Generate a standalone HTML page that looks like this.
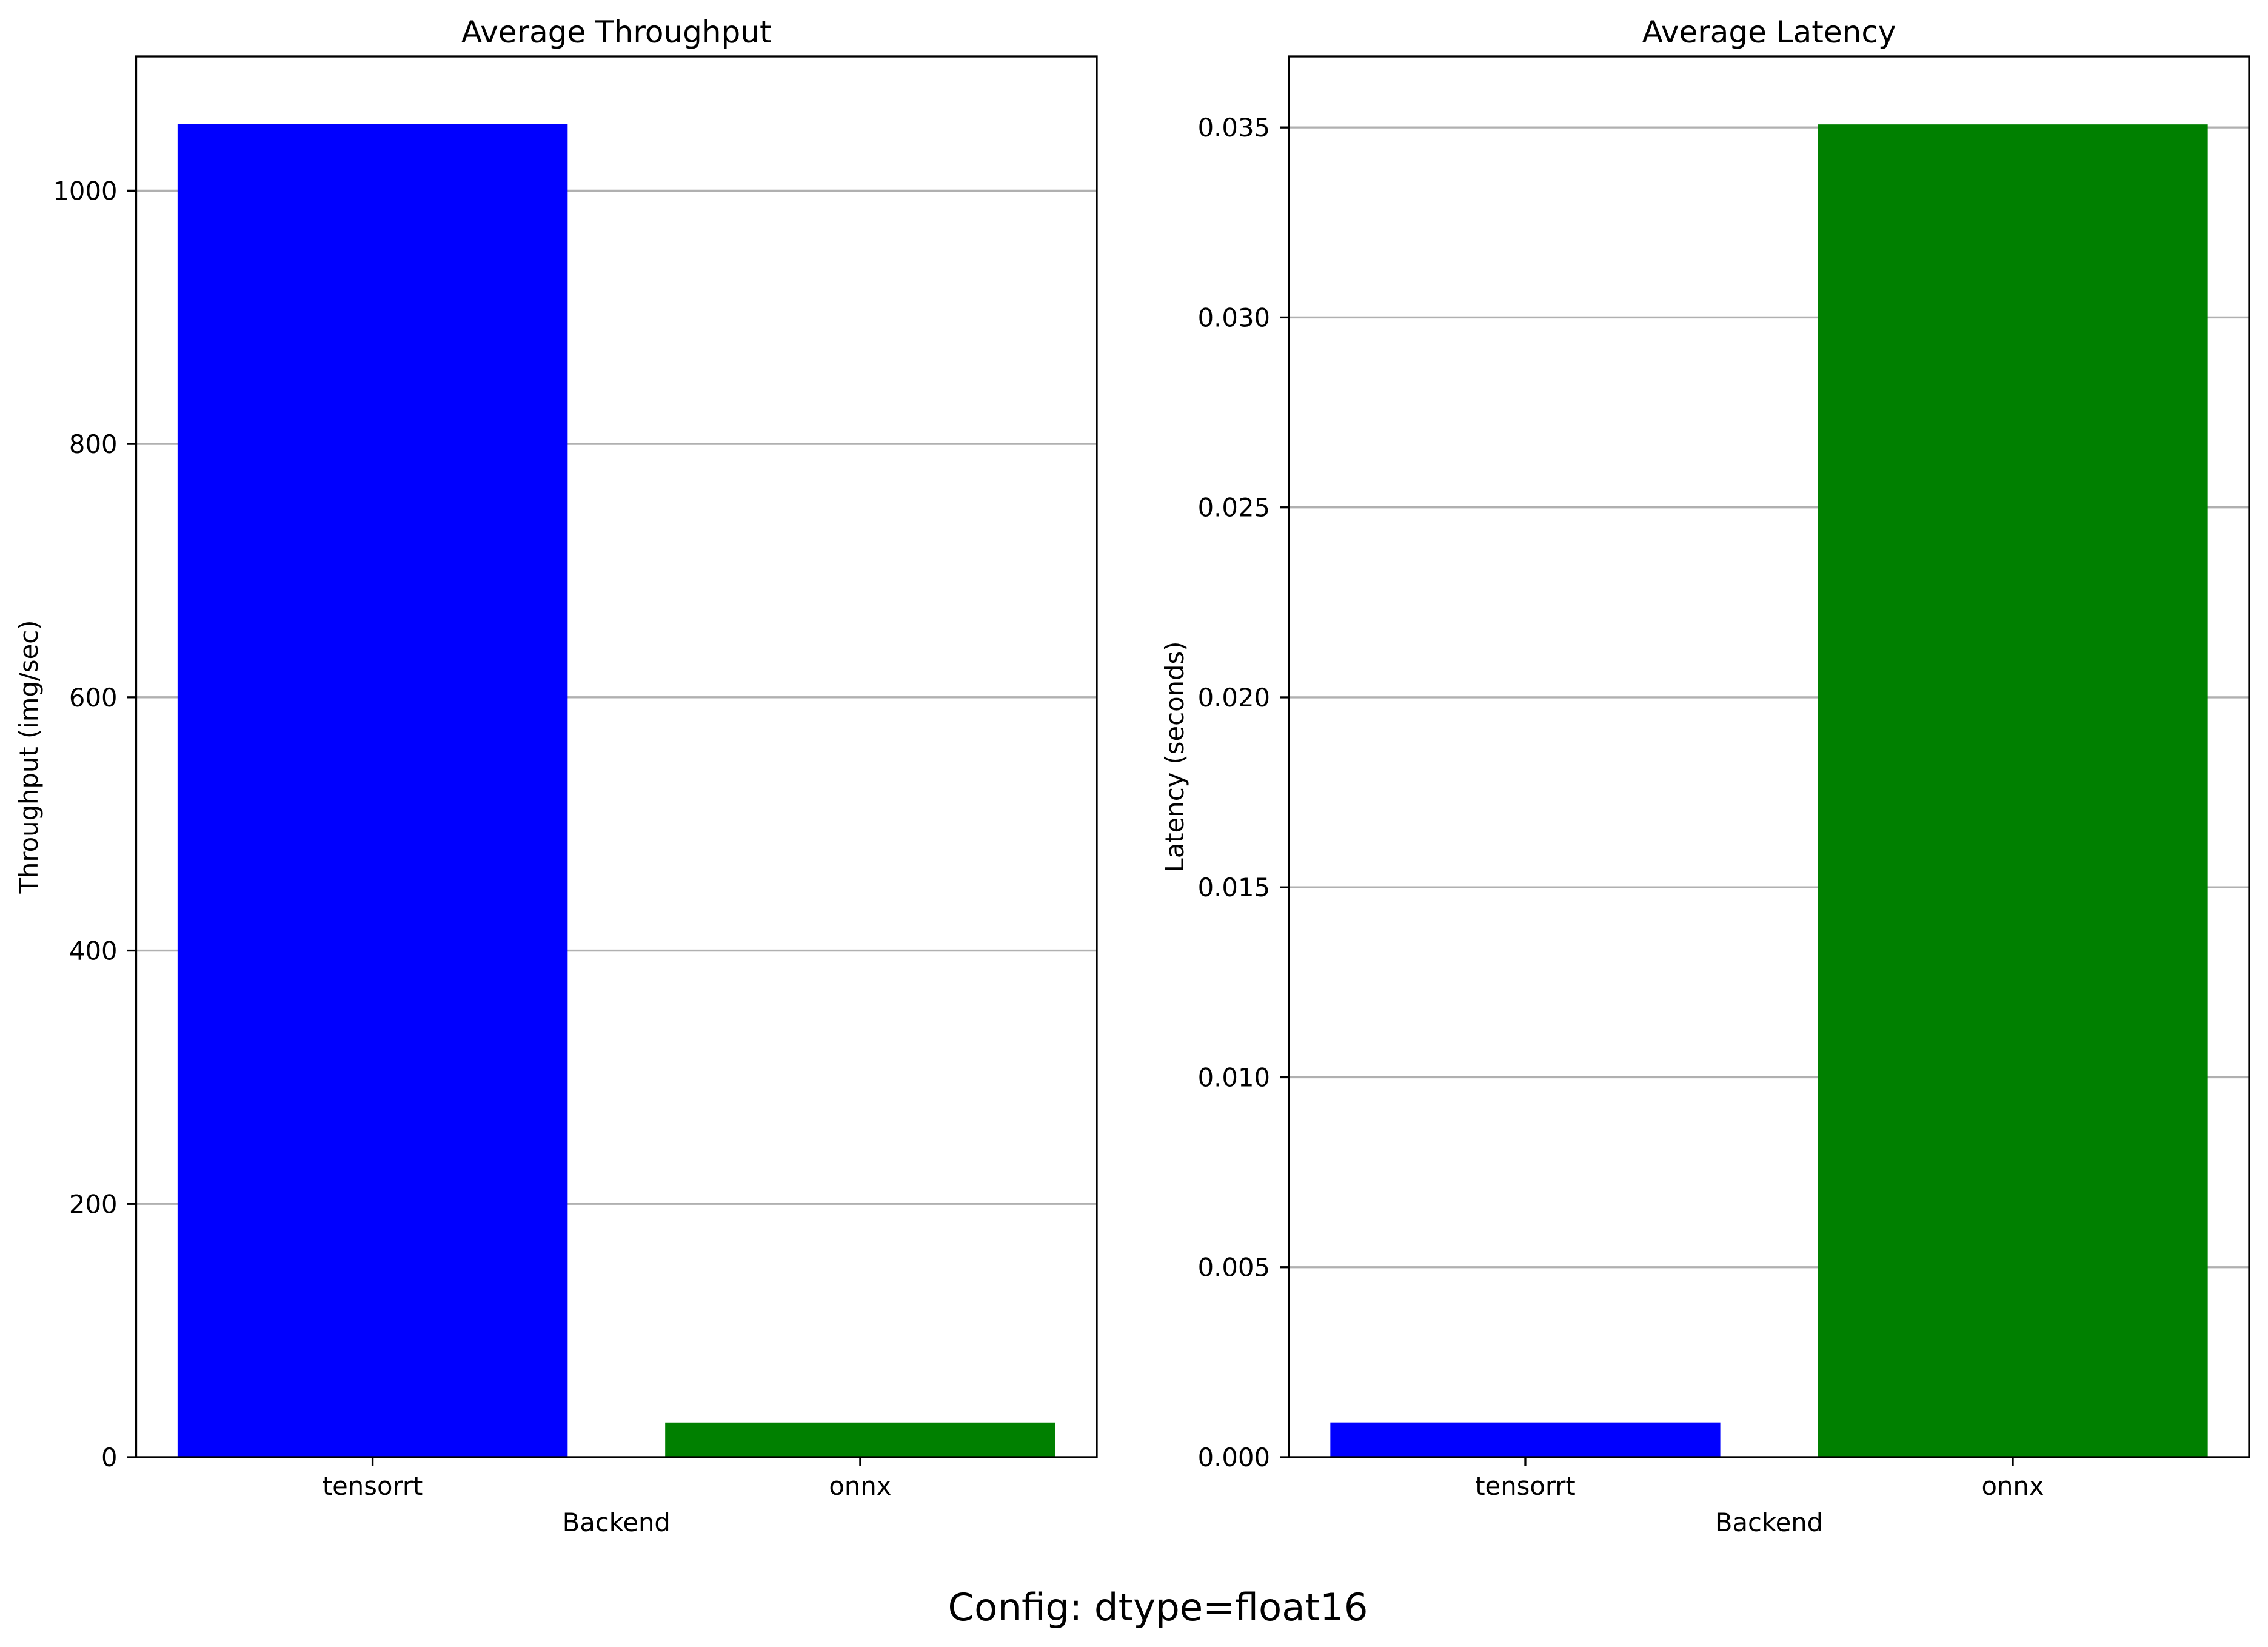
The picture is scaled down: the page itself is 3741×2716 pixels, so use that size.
<!DOCTYPE html>
<html><head><meta charset="utf-8"><style>
html,body{margin:0;padding:0;background:#fff;}
svg{display:block;font-family:"DejaVu Sans","Liberation Sans",sans-serif;}
</style></head><body>
<svg id="fig" width="3741" height="2716" viewBox="0 0 3741 2716" xmlns="http://www.w3.org/2000/svg">
<rect width="3741" height="2716" fill="#fff"/>
<text x="1910" y="2672" font-size="62.5" text-anchor="middle">Config: dtype=float16</text>
</svg>
<script>
const categories = ["tensorrt", "onnx"];
const throughputValues = [1052.6, 27.4];
const latencyValues = [0.000915, 0.03508];
const barColors = ["#0000ff", "#008000"];
const throughputTicks = [0, 200, 400, 600, 800, 1000];
const throughputTickLabels = ["0", "200", "400", "600", "800", "1000"];
const latencyTicks = [0, 0.005, 0.01, 0.015, 0.02, 0.025, 0.03, 0.035];
const latencyTickLabels = ["0.000", "0.005", "0.010", "0.015", "0.020", "0.025", "0.030", "0.035"];
const throughputMax = 1106;
const latencyMax = 0.03687;

const NS = "http://www.w3.org/2000/svg";
const svg = document.getElementById("fig");
function mk(tag, attrs, parent) {
  const e = document.createElementNS(NS, tag);
  for (const k in attrs) e.setAttribute(k, attrs[k]);
  (parent || svg).appendChild(e);
  return e;
}
function panel(prefix, x0, x1, y0, y1, vals, ymax, ticks, tickLabels, title, ylabel, ylabelX) {
  const g = mk("g", {});
  
  
  const yS = v => y1 - (v / ymax) * (y1 - y0);
  const xmin = -0.485, xmax = 1.485;
  const xS = v => x0 + (v - xmin) / (xmax - xmin) * (x1 - x0);
  ticks.forEach((t, i) => {
    const y = yS(t);
    const gl = mk("line", {x1: x0, x2: x1, y1: y, y2: y, stroke: "#b0b0b0", "stroke-width": 3.3}, g);
    
    
  });
  vals.forEach((v, i) => {
    const l = xS(i - 0.4), r = xS(i + 0.4);
    const b = mk("rect", {x: l, y: yS(v), width: r - l, height: y1 - yS(v), fill: barColors[i]}, g);
    
    
  });
  ticks.forEach((t, i) => {
    const y = yS(t);
    const tk = mk("line", {x1: x0 - 14.6, x2: x0, y1: y, y2: y, stroke: "#000", "stroke-width": 3.3}, g);
    
    
    const tl = mk("text", {x: x0 - 31, y: y + 15, "font-size": 41.7, "text-anchor": "end"}, g);
    tl.textContent = tickLabels[i];
    
    
  });
  categories.forEach((c, i) => {
    const x = xS(i);
    const tk = mk("line", {x1: x, x2: x, y1: y1, y2: y1 + 14.6, stroke: "#000", "stroke-width": 3.3}, g);
    
    
    const tl = mk("text", {x: x, y: y1 + 62, "font-size": 41.7, "text-anchor": "middle"}, g);
    tl.textContent = c;
    
    
  });
  const fr = mk("rect", {x: x0, y: y0, width: x1 - x0, height: y1 - y0, fill: "none", stroke: "#000", "stroke-width": 3.3}, g);
  
  
  const tt = mk("text", {x: (x0 + x1) / 2, y: y0 - 23, "font-size": 50, "text-anchor": "middle"}, g);
  tt.textContent = title;
  
  
  const xl = mk("text", {x: (x0 + x1) / 2, y: y1 + 122, "font-size": 41.7, "text-anchor": "middle"}, g);
  xl.textContent = "Backend";
  
  
  const cy = (y0 + y1) / 2;
  const yl = mk("text", {x: ylabelX, y: cy, "font-size": 41.7, "text-anchor": "middle", transform: "rotate(-90 " + ylabelX + " " + cy + ")"}, g);
  yl.textContent = ylabel;
  
  
}
panel("throughput", 224.5, 1809, 93, 2403, throughputValues, throughputMax, throughputTicks, throughputTickLabels, "Average Throughput", "Throughput (img/sec)", 62);
panel("latency", 2126, 3710, 93, 2403, latencyValues, latencyMax, latencyTicks, latencyTickLabels, "Average Latency", "Latency (seconds)", 1952);
</script>
</body></html>
